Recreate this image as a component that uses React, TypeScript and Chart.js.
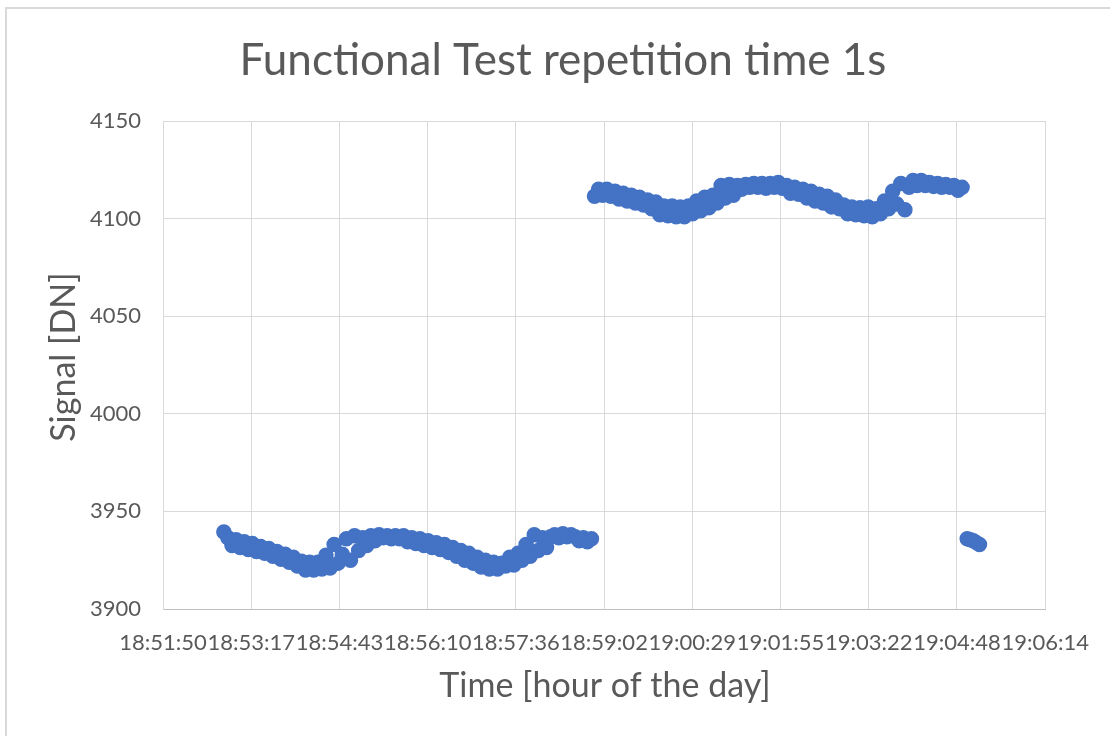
import React, { useEffect, useRef } from "react";
import { Chart, registerables } from "chart.js";

Chart.register(...registerables);

// ---------- data ----------
const chartTitle = "Functional Test repetition time 1s";
const xAxisTitle = "Time [hour of the day]";
const yAxisTitle = "Signal [DN]";

const xTickLabels = [
  "18:51:50", "18:53:17", "18:54:43", "18:56:10", "18:57:36", "18:59:02",
  "19:00:29", "19:01:55", "19:03:22", "19:04:48", "19:06:14",
];
const xMinSec = 67910.4; // 0.786 day
const xStepSec = 86.4; // 0.001 day
const yMin = 3900;
const yMax = 4150;
const yStep = 50;

const seg1Start = "18:52:50";
const seg1Elapsed = [
  0, 4, 8, 12, 16, 20, 24, 28, 32, 36, 40, 44, 48, 52, 56, 60, 64, 68, 72, 76,
  80, 84, 88, 92, 96, 100, 104, 108, 112, 116, 120, 124, 128, 132, 136, 140, 144, 148, 152, 156,
  160, 164, 168, 172, 176, 180, 184, 188, 192, 196, 200, 204, 208, 212, 216, 220, 224, 228, 232, 236,
  240, 244, 248, 252, 256, 260, 264, 268, 272, 276, 280, 284, 288, 292, 296, 300, 304, 308, 312, 316,
  320, 324, 328, 332, 336, 340, 344, 348, 352, 356, 360,
];
const seg1Signal = [
  3939.5, 3936.5, 3932.5, 3935.5, 3931.5, 3934.5, 3930.5, 3933.5, 3929.5, 3932.0,
  3928.5, 3931.0, 3927.0, 3929.5, 3925.5, 3928.0, 3924.0, 3926.5, 3922.0, 3924.5,
  3920.0, 3924.0, 3920.0, 3924.0, 3920.5, 3927.5, 3921.0, 3933.0, 3923.5, 3928.0,
  3936.0, 3925.0, 3937.5, 3930.0, 3936.5, 3932.5, 3937.5, 3935.0, 3938.0, 3936.5,
  3937.5, 3936.0, 3937.5, 3936.0, 3937.5, 3934.5, 3936.5, 3933.5, 3936.0, 3932.5,
  3935.0, 3931.5, 3934.0, 3930.5, 3933.0, 3929.0, 3931.5, 3927.0, 3930.0, 3925.0,
  3928.5, 3923.5, 3926.5, 3921.5, 3925.0, 3920.5, 3924.0, 3920.5, 3923.5, 3922.0,
  3926.5, 3922.5, 3928.5, 3925.0, 3933.0, 3927.0, 3938.0, 3930.0, 3936.5, 3931.5,
  3937.0, 3938.0, 3936.5, 3938.5, 3937.0, 3938.0, 3937.0, 3935.0, 3936.5, 3934.5,
  3936.0,
];

const seg2Start = "18:58:53";
const seg2Elapsed = [
  0, 4, 8, 12, 16, 20, 24, 28, 32, 36, 40, 44, 48, 52, 56, 60, 64, 68, 72, 76,
  80, 84, 88, 92, 96, 100, 104, 108, 112, 116, 120, 124, 128, 132, 136, 140, 144, 148, 152, 156,
  160, 164, 168, 172, 176, 180, 184, 188, 192, 196, 200, 204, 208, 212, 216, 220, 224, 228, 232, 236,
  240, 244, 248, 252, 256, 260, 264, 268, 272, 276, 280, 284, 288, 292, 296, 300, 304, 308, 312, 316,
  320, 324, 328, 332, 336, 340, 344, 348, 352, 356, 360,
];
const seg2Signal = [
  4111.5, 4115.0, 4112.0, 4115.0, 4111.5, 4114.0, 4110.0, 4113.0, 4109.0, 4112.0,
  4108.0, 4111.0, 4107.0, 4109.5, 4105.0, 4108.5, 4102.0, 4106.5, 4101.5, 4106.5,
  4101.0, 4106.0, 4101.0, 4106.5, 4102.5, 4109.0, 4104.0, 4111.0, 4105.5, 4112.0,
  4108.0, 4117.0, 4110.5, 4117.5, 4112.0, 4117.0, 4115.0, 4117.5, 4116.0, 4118.0,
  4116.0, 4118.0, 4115.5, 4118.0, 4116.0, 4118.5, 4115.5, 4117.0, 4113.0, 4116.0,
  4112.5, 4115.0, 4110.5, 4114.0, 4109.0, 4112.5, 4108.0, 4111.5, 4106.0, 4109.5,
  4105.0, 4107.0, 4102.5, 4106.0, 4102.0, 4105.5, 4101.5, 4106.0, 4101.0, 4105.0,
  4102.5, 4109.0, 4105.0, 4114.0, 4107.5, 4118.0, 4104.5, 4116.0, 4119.5, 4117.0,
  4119.5, 4117.0, 4118.5, 4116.5, 4118.0, 4116.0, 4117.5, 4116.0, 4117.0, 4114.5,
  4116.0,
];

const seg3Start = "19:04:58";
const seg3Elapsed = [0, 3, 6, 9, 12];
const seg3Signal = [3936.0, 3935.5, 3935.0, 3934.0, 3933.0];

// ---------- helpers ----------
function toSec(hms: string): number {
  const [h, m, s] = hms.split(":").map(Number);
  return h * 3600 + m * 60 + s;
}

function buildPoints(start: string, elapsed: number[], values: number[]) {
  const t0 = toSec(start);
  return elapsed.map((e, i) => ({ x: t0 + e, y: values[i] }));
}

const FONT = 'Lato, "Open Sans", "DejaVu Sans", sans-serif';
const TEXT = "#595959";
const BLUE = "#4472C4";
const GRID = "#d9d9d9";

const textPlugin = {
  id: "excelTexts",
  beforeDraw(chart: any) {
    const ctx = chart.ctx;
    ctx.save();
    ctx.fillStyle = "#ffffff";
    ctx.fillRect(0, 0, chart.width, chart.height);
    ctx.fillStyle = GRID;
    ctx.fillRect(5, 7, chart.width - 5, 2);
    ctx.fillRect(5, 7, 2, chart.height - 7);
    ctx.restore();
  },
  afterDraw(chart: any) {
    const ctx = chart.ctx;
    ctx.save();
    ctx.fillStyle = TEXT;
    ctx.textAlign = "center";
    ctx.textBaseline = "alphabetic";
    ctx.font = `44px ${FONT}`;
    ctx.fillText(chartTitle, 563, 75);
    ctx.font = `34px ${FONT}`;
    ctx.fillText(xAxisTitle, 605, 697);
    ctx.translate(75, 357);
    ctx.rotate(-Math.PI / 2);
    ctx.fillText(yAxisTitle, 0, 0);
    ctx.restore();
  },
};

export default function App() {
  const canvasRef = useRef<HTMLCanvasElement | null>(null);

  useEffect(() => {
    if (!canvasRef.current) return;
    const data = [
      ...buildPoints(seg1Start, seg1Elapsed, seg1Signal),
      ...buildPoints(seg2Start, seg2Elapsed, seg2Signal),
      ...buildPoints(seg3Start, seg3Elapsed, seg3Signal),
    ];
    const chart = new Chart(canvasRef.current, {
      type: "scatter",
      data: {
        datasets: [
          {
            label: "Signal",
            data,
            backgroundColor: BLUE,
            borderColor: BLUE,
            pointRadius: 7,
            pointBorderWidth: 1.5,
            pointHoverRadius: 7,
          },
        ],
      },
      options: {
        animation: false,
        responsive: false,
        devicePixelRatio: 1,
        layout: { padding: { left: 0, top: 121, right: 62, bottom: 0 } },
        plugins: {
          legend: { display: false },
          title: { display: false },
          tooltip: { enabled: false },
        },
        scales: {
          x: {
            type: "linear",
            min: xMinSec,
            max: xMinSec + xStepSec * (xTickLabels.length - 1),
            afterFit(scale: any) {
              scale.height = 127;
            },
            afterBuildTicks(scale: any) {
              scale.ticks = xTickLabels.map((_, i) => ({ value: xMinSec + i * xStepSec }));
            },
            grid: { color: GRID, lineWidth: 1, drawTicks: false },
            border: { display: true, color: "#bfbfbf", width: 1 },
            ticks: {
              autoSkip: false,
              maxRotation: 0,
              minRotation: 0,
              padding: 21,
              color: TEXT,
              font: { family: FONT, size: 22 },
              callback: (_v: any, i: number) => xTickLabels[i],
            },
          },
          y: {
            type: "linear",
            min: yMin,
            max: yMax,
            afterFit(scale: any) {
              scale.width = 163;
            },
            grid: { color: GRID, lineWidth: 1, drawTicks: false },
            border: { display: true, color: GRID, width: 1 },
            ticks: {
              stepSize: yStep,
              padding: 22,
              color: TEXT,
              font: { family: FONT, size: 22 },
              callback: (v: any) => String(v),
            },
          },
        },
      },
      plugins: [textPlugin],
    });
    return () => chart.destroy();
  }, []);

  return (
    <div style={{ position: "absolute", left: 0, top: 0, width: 1110, height: 736, overflow: "hidden", background: "#fff" }}>
      <canvas ref={canvasRef} width={1110} height={736} style={{ display: "block", width: 1110, height: 736 }} />
    </div>
  );
}
